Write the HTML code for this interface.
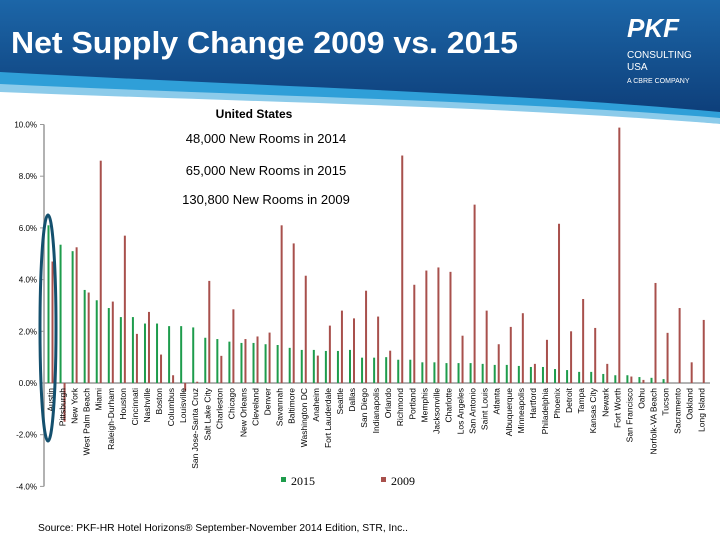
<!DOCTYPE html>
<html><head><meta charset="utf-8"><style>
body{margin:0;width:720px;height:540px;overflow:hidden;background:#fff;font-family:"Liberation Sans",sans-serif}
</style></head><body>
<svg width="720" height="540" xmlns="http://www.w3.org/2000/svg">
<defs>
<linearGradient id="hg" x1="0" y1="0" x2="0" y2="1"><stop offset="0" stop-color="#1c66a8"/><stop offset="1" stop-color="#0d3d78"/></linearGradient>
</defs>
<g>
<path d="M0,0H720V118C520,100 250,92 0,78Z" fill="url(#hg)"/>
<path d="M0,72C250,86 500,92 720,112V120C500,104 250,96 0,92Z" fill="#2f9fd8"/>
<path d="M0,84C250,96 500,100 720,118V124C500,108 250,102 0,100Z" fill="#8ccbea"/>
<path d="M0,92C250,102 500,106 720,124V540H0Z" fill="#fff"/>
</g>
<text x="11" y="53" font-size="31" font-weight="bold" fill="#fff" textLength="507" lengthAdjust="spacingAndGlyphs">Net Supply Change 2009 vs. 2015</text>
<g fill="#fff">
<text x="627" y="37" font-size="26" font-weight="bold" font-style="italic">PKF</text>
<text x="627" y="58" font-size="10">CONSULTING</text>
<text x="627" y="70" font-size="10">USA</text>
<text x="627" y="83" font-size="7">A CBRE COMPANY</text>
</g>
<text x="254" y="118" font-size="12" font-weight="bold" text-anchor="middle">United States</text>
<text x="266" y="143" font-size="13" text-anchor="middle">48,000 New Rooms in 2014</text>
<text x="266" y="175" font-size="13" text-anchor="middle">65,000 New Rooms in 2015</text>
<text x="266" y="204" font-size="13" text-anchor="middle">130,800 New Rooms in 2009</text>
<g id="chart"></g>
<g>
<rect x="281" y="477" width="5" height="5" fill="#1e9c4c"/>
<text x="291" y="485" font-size="12" font-family="Liberation Serif,serif">2015</text>
<rect x="381" y="477" width="5" height="5" fill="#a8504c"/>
<text x="391" y="485" font-size="12" font-family="Liberation Serif,serif">2009</text>
</g>
<text x="38" y="531" font-size="10" textLength="370" lengthAdjust="spacingAndGlyphs">Source: PKF-HR Hotel Horizons® September-November 2014 Edition, STR, Inc..</text>
<ellipse cx="48" cy="328" rx="8" ry="113" fill="none" stroke="#14506e" stroke-width="3"/>
</svg>
<script>
const categories=["Austin","Pittsburgh","New York","West Palm Beach","Miami","Raleigh-Durham","Houston","Cincinnati","Nashville","Boston","Columbus","Louisville","San Jose-Santa Cruz","Salt Lake City","Charleston","Chicago","New Orleans","Cleveland","Denver","Savannah","Baltimore","Washington DC","Anaheim","Fort Lauderdale","Seattle","Dallas","San Diego","Indianapolis","Orlando","Richmond","Portland","Memphis","Jacksonville","Charlotte","Los Angeles","San Antonio","Saint Louis","Atlanta","Albuquerque","Minneapolis","Hartford","Philadelphia","Phoenix","Detroit","Tampa","Kansas City","Newark","Fort Worth","San Francisco","Oahu","Norfolk-VA Beach","Tucson","Sacramento","Oakland","Long Island"];
const values2015=[6.1,5.35,5.1,3.6,3.2,2.9,2.55,2.55,2.3,2.3,2.2,2.2,2.15,1.75,1.7,1.6,1.55,1.55,1.5,1.47,1.36,1.28,1.28,1.24,1.24,1.28,0.98,0.98,1.0,0.9,0.9,0.8,0.8,0.77,0.77,0.77,0.74,0.7,0.7,0.66,0.62,0.62,0.54,0.5,0.43,0.43,0.35,0.3,0.3,0.23,0.2,0.15,0,0,0];
const values2009=[4.7,-1.5,5.25,3.5,8.6,3.15,5.7,1.9,2.75,1.1,0.3,-0.3,0.05,3.95,1.05,2.85,1.7,1.8,1.95,6.1,5.4,4.15,1.06,2.22,2.8,2.5,3.57,2.57,1.25,8.8,3.8,4.35,4.47,4.3,1.83,6.9,2.8,1.5,2.17,2.7,0.74,1.67,6.16,2.0,3.25,2.13,0.74,9.88,0.25,0.12,3.87,1.94,2.9,0.8,2.44];
const yTicks=[10,8,6,4,2,0,-2,-4];
const NS="http://www.w3.org/2000/svg";
const g=document.getElementById('chart');
const y=v=>383-v*25.85;
const x=i=>50.5+i*12.06;
function mk(t,a){const e=document.createElementNS(NS,t);for(const k in a)e.setAttribute(k,a[k]);g.appendChild(e);return e;}
const ax=mk('line',{x1:44,y1:y(10),x2:44,y2:y(-4),stroke:'#999','stroke-width':1.5});


yTicks.forEach(t=>{
 const tk=mk('line',{x1:40,x2:44,y1:y(t),y2:y(t),stroke:'#999'});
 
 
 const tl=mk('text',{x:37,y:y(t)+3,'font-size':8,'text-anchor':'end'});
 tl.textContent=t.toFixed(1)+'%';
 
 
});
const xa=mk('line',{x1:44,x2:710,y1:y(0),y2:y(0),stroke:'#999','stroke-width':1.5});


categories.forEach((c,i)=>{
 const v1=values2015[i],v2=values2009[i];
 const b1=mk('rect',{x:x(i)-3,y:Math.min(y(v1),y(0)),width:2,height:Math.abs(y(v1)-y(0)),fill:'#1e9c4c'});
 
 
 const b2=mk('rect',{x:x(i)+1,y:Math.min(y(v2),y(0)),width:2,height:Math.abs(y(v2)-y(0)),fill:'#a8504c'});
 
 
 const lx=x(i)+3;
 const l=mk('text',{x:lx,y:388,'font-size':8.5,'text-anchor':'end',transform:`rotate(-90 ${lx} 388)`});
 l.textContent=c;
 
 
});
</script>
</body></html>
